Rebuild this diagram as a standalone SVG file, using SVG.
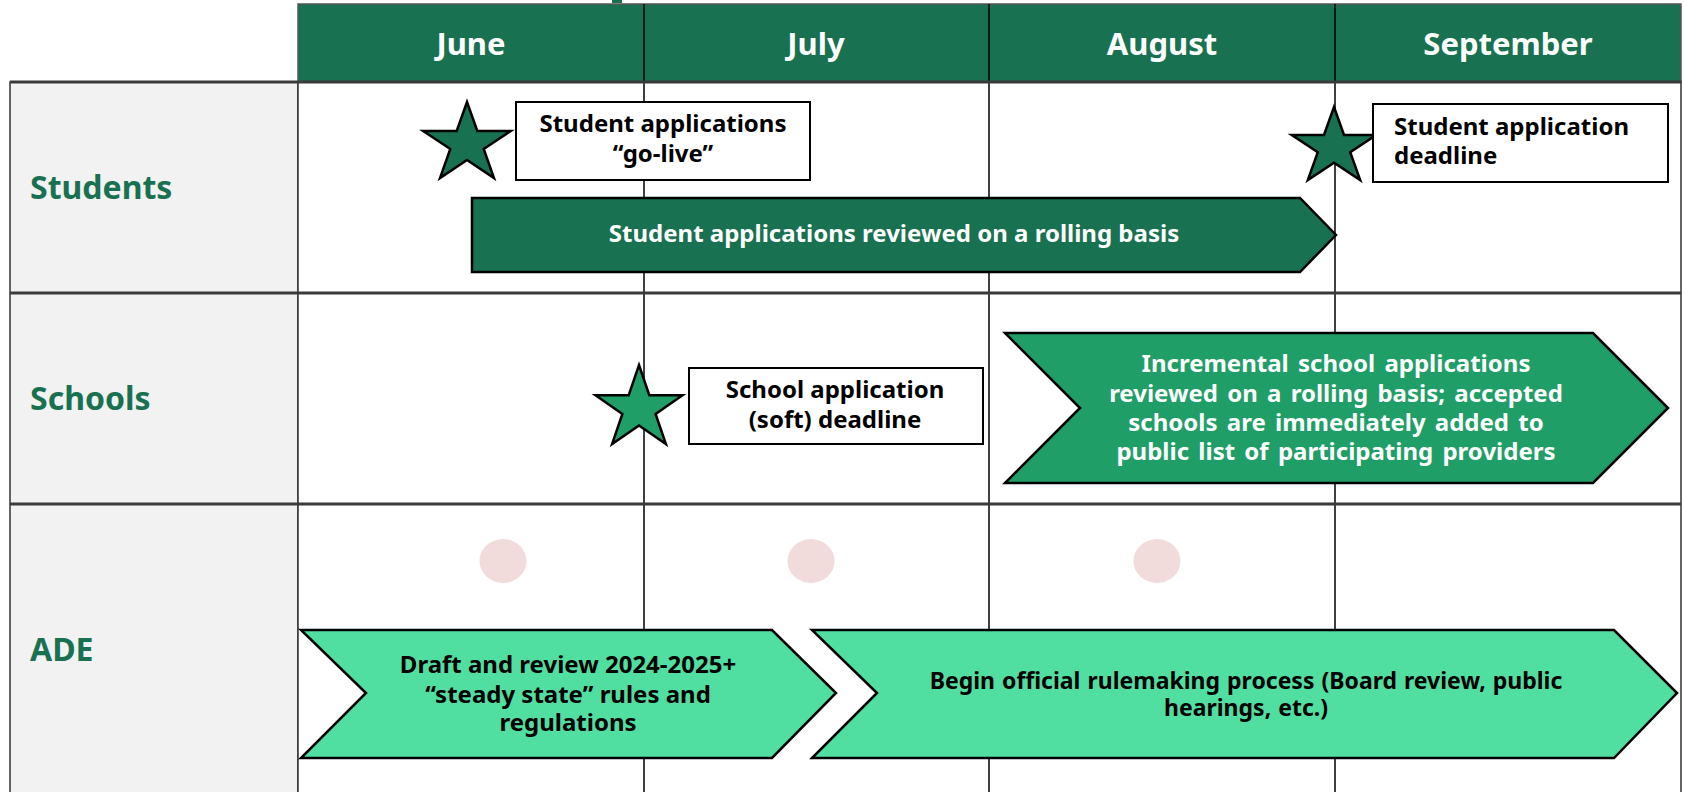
<svg xmlns="http://www.w3.org/2000/svg" width="1685" height="792" viewBox="0 0 1685 792">
<style>
text{font-family:"Noto Sans","Open Sans","Liberation Sans",sans-serif;font-weight:bold}
.month{fill:#fff;font-size:31px;text-anchor:middle}
.lane{fill:#187150;font-size:32px}
.box{fill:#fff;stroke:#000;stroke-width:2}
.bt{fill:#000;font-size:24px}
.wt{fill:#fff;font-size:24px;text-anchor:middle}
.kt{fill:#000;font-size:24px;text-anchor:middle}
.grid{stroke:#000;stroke-width:1.5}
.sep{stroke:#3a3a3a;stroke-width:3}
.dot{fill:#F2DCDB}
.shape{stroke:#000;stroke-width:2.5;stroke-linejoin:miter}
</style>
<rect width="1685" height="792" fill="#fff"/>
<rect x="612" y="0" width="10" height="3" fill="#187150"/>
<g id="header">
<rect x="298" y="4" width="1383" height="78" fill="#187150" stroke="#555" stroke-width="1.5"/>
<line class="grid" x1="644" y1="4" x2="644" y2="82"/>
<line class="grid" x1="989" y1="4" x2="989" y2="82"/>
<line class="grid" x1="1335" y1="4" x2="1335" y2="82"/>
<text class="month" x="471" y="55">June</text>
<text class="month" x="816" y="55">July</text>
<text class="month" x="1162" y="55">August</text>
<text class="month" x="1508" y="55">September</text>
</g>
<g id="lanes">
<rect x="10" y="82" width="288" height="712" fill="#F2F2F2" stroke="#333" stroke-width="1.5"/>
<rect x="298" y="82" width="1383" height="712" fill="#fff" stroke="#333" stroke-width="1.5"/>
<line class="grid" x1="644" y1="82" x2="644" y2="792"/>
<line class="grid" x1="989" y1="82" x2="989" y2="792"/>
<line class="grid" x1="1335" y1="82" x2="1335" y2="792"/>
<line class="sep" x1="10" y1="82" x2="1681" y2="82"/>
<line class="sep" x1="10" y1="293" x2="1681" y2="293"/>
<line class="sep" x1="10" y1="504" x2="1681" y2="504"/>
<text class="lane" x="30" y="199">Students</text>
<text class="lane" x="30" y="410">Schools</text>
<text class="lane" x="30" y="661">ADE</text>
</g>
<g id="student-golive">
<polygon class="shape" fill="#187150" points="467,102 477.3,131 510.8,131 483.7,149 494,178 467,160 440,178 450.3,149 423.2,131 456.7,131"/>
<rect class="box" x="516" y="102" width="294" height="78"/>
<text class="kt" x="663" y="132">Student applications</text>
<text class="kt" x="663" y="162">“go-live”</text>
</g>
<g id="student-deadline">
<polygon class="shape" fill="#187150" points="1334,107 1344,134.9 1376.3,134.9 1350.2,152.2 1360.2,180.1 1334,162.8 1307.8,180.1 1317.8,152.2 1291.7,134.9 1324,134.9"/>
<rect class="box" x="1373" y="104" width="295" height="78"/>
<text class="bt" x="1394" y="135">Student application</text>
<text class="bt" x="1394" y="164">deadline</text>
</g>
<g id="student-review">
<polygon class="shape" fill="#187150" points="472,198 1300,198 1336,235 1300,272 472,272"/>
<text class="wt" x="894" y="242">Student applications reviewed on a rolling basis</text>
</g>
<g id="school-deadline">
<polygon class="shape" fill="#1F9E68" points="639,365 649.3,395.2 682.5,395.2 655.6,413.9 665.9,444.1 639,425.4 612.1,444.1 622.4,413.9 595.5,395.2 628.7,395.2"/>
<rect class="box" x="689" y="368" width="294" height="76"/>
<text class="kt" x="835" y="398">School application</text>
<text class="kt" x="835" y="428">(soft) deadline</text>
</g>
<g id="school-review">
<polygon class="shape" fill="#1F9E68" points="1005,333 1593,333 1668,408 1593,483 1005,483 1080,408"/>
<text class="wt" x="1336" y="372" word-spacing="3">Incremental school applications</text>
<text class="wt" x="1336" y="402" word-spacing="3">reviewed on a rolling basis; accepted</text>
<text class="wt" x="1336" y="431" word-spacing="3">schools are immediately added to</text>
<text class="wt" x="1336" y="460" word-spacing="3">public list of participating providers</text>
</g>
<g id="ade-dots">
<ellipse class="dot" cx="503" cy="561" rx="23.5" ry="22"/>
<ellipse class="dot" cx="811" cy="561" rx="23.5" ry="22"/>
<ellipse class="dot" cx="1157" cy="561" rx="23.5" ry="22"/>
</g>
<g id="ade-draft">
<polygon class="shape" fill="#50DFA0" points="301,630 772,630 836,693 772,758 301,758 366,693"/>
<text class="kt" x="568" y="673">Draft and review 2024-2025+</text>
<text class="kt" x="568" y="703">“steady state” rules and</text>
<text class="kt" x="568" y="731">regulations</text>
</g>
<g id="ade-rulemaking">
<polygon class="shape" fill="#50DFA0" points="812,630 1614,630 1677,693 1614,758 812,758 877,693"/>
<text class="kt" x="1246" y="689" style="font-size:23px" word-spacing="1">Begin official rulemaking process (Board review, public</text>
<text class="kt" x="1246" y="716" style="font-size:23px" word-spacing="1">hearings, etc.)</text>
</g>
<g id="connectors"></g>
</svg>
